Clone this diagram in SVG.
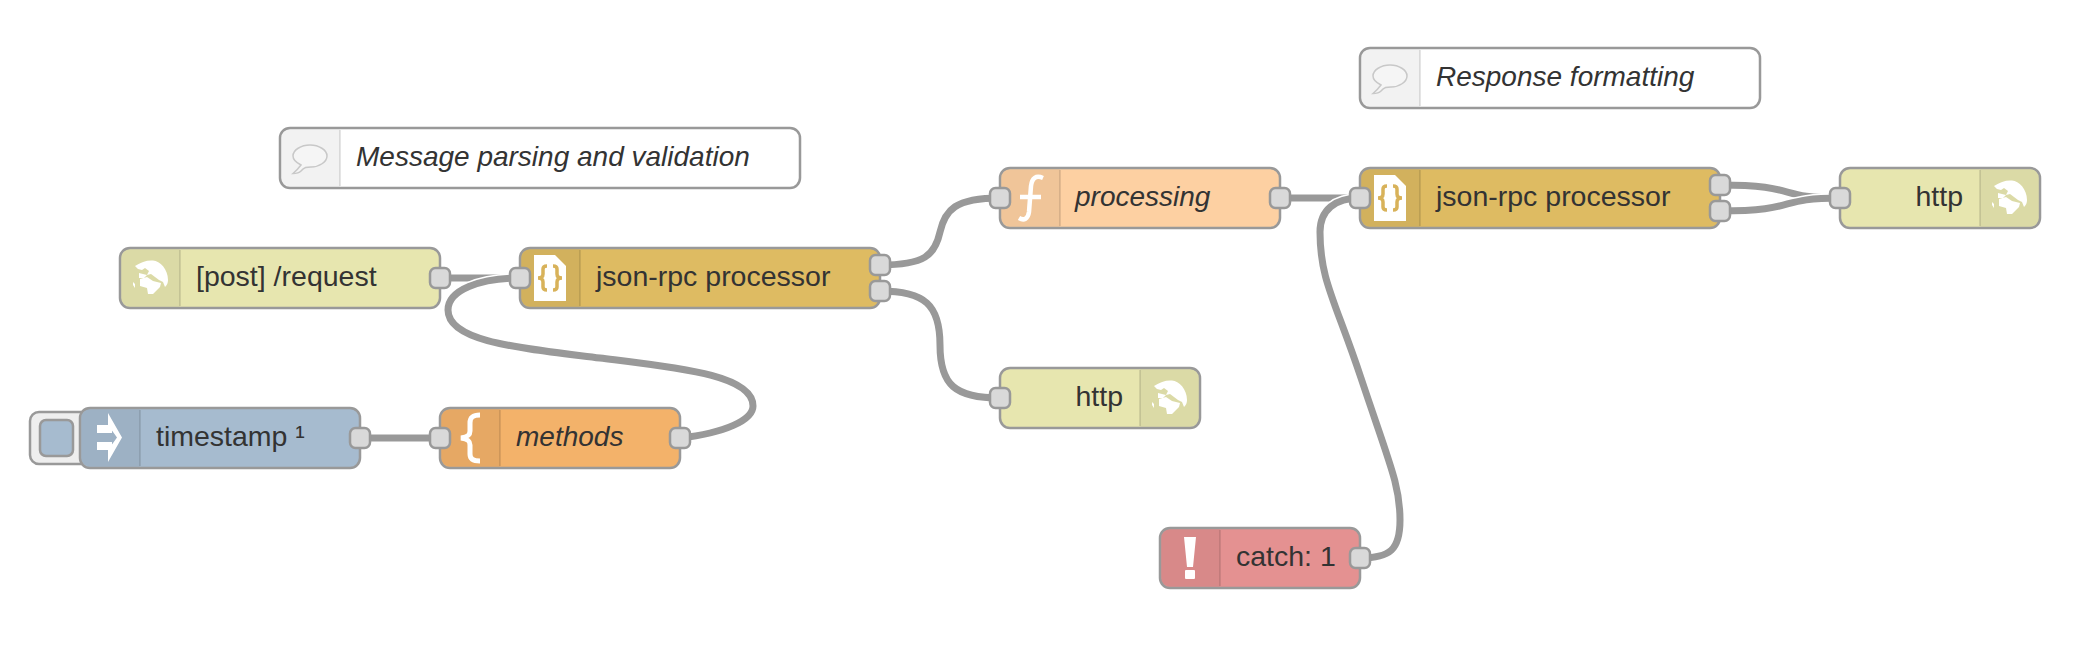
<svg xmlns="http://www.w3.org/2000/svg" xmlns:xlink="http://www.w3.org/1999/xlink" width="2094" height="652" viewBox="0 0 2094 652">
<style>
text{font-family:"Liberation Sans",Arial,sans-serif;font-size:28.5px;fill:#333}
.i{font-style:italic;font-size:28px}
.b{stroke:#999;stroke-width:2.500}
.s{fill:#000;fill-opacity:.05}
.d{stroke:#000;stroke-opacity:.1;stroke-width:2}
.p{fill:#d9d9d9;stroke:#999;stroke-width:2.500}
.h{fill:none;stroke:#fff;stroke-width:10}
.w{fill:none;stroke:#999;stroke-width:7}
.c{fill:none;stroke:#d8b25a;stroke-width:3.500}
</style>
<defs>
<rect id="port" x="-10" y="-10" width="20" height="20" rx="5.500" class="p"/>
<g id="globe" fill="#fff">
<path d="M-15-12C-9-16-3-18 3-17.500C10-17 18-9 18 2C18 5 17 7 15 9L13 4 9 2 5-1 1-4-3-3-1-7-5-10-8-8-12-9Z"/>
<path d="M-11-5-3-3-6 0-11 0Z"/>
<path d="M-10 1-3-1 3 3 11 5 10 9 3 16-2 16-3 10-10 8Z"/>
<path d="M-17 4-15 6-15 10-17 7Z"/>
</g>
<path id="doc" d="M0 0H21L32 11V46H0Z"/>
<g id="bubble"><path d="M-9 7C-15 4-17 1-17-2C-17-8-9-13 0-13C9-13 17-8 17-2C17 4 9 9 1 9C-3 9-6 9-9 13C-11 15-15 15.500-17 15.500C-14 13-12 11-9 7Z" fill="#fff" fill-opacity=".25" stroke="#c8c8c8" stroke-width="1.500"/></g>
</defs>

<g id="connectors">
<path class="w" d="M440 278H520"/>
<path class="h" d="M680 438C725 433 753 420 753 406C753 375 680 368 600 358C520 348 448 342 448 310C448 290 480 278 520 278"/>
<path class="w" d="M680 438C725 433 753 420 753 406C753 375 680 368 600 358C520 348 448 342 448 310C448 290 480 278 520 278"/>
<path class="w" d="M360 438H440"/>
<path class="w" d="M880 265C925 265 935 255 940 232C945 210 955 198 1000 198"/>
<path class="w" d="M880 291C925 291 940 305 940 345C940 385 955 398 1000 398"/>
<path class="w" d="M1280 198H1360"/>
<path class="h" d="M1360 558C1390 558 1400 550 1400 520C1400 485 1390 465 1361 378C1335 300 1320 280 1320 232C1320 210 1335 198 1360 198"/>
<path class="w" d="M1360 558C1390 558 1400 550 1400 520C1400 485 1390 465 1361 378C1335 300 1320 280 1320 232C1320 210 1335 198 1360 198"/>
<path class="w" d="M1720 185C1800 185 1775 198 1840 198"/>
<path class="h" d="M1720 211C1800 211 1775 198 1840 198"/>
<path class="w" d="M1720 211C1800 211 1775 198 1840 198"/>
</g>

<g id="comment-parsing">
<rect class="b" x="280" y="128" width="520" height="60" rx="10" fill="#fff"/>
<path class="s" d="M290 129.500H340V186.500H290A8.500 8.500 0 0 1 281.500 178V138A8.500 8.500 0 0 1 290 129.500Z"/>
<path class="d" d="M340 130V186"/>
<use xlink:href="#bubble" href="#bubble" x="310" y="158"/>
<text class="i" x="356" y="166">Message parsing and validation</text>
</g>

<g id="comment-response">
<rect class="b" x="1360" y="48" width="400" height="60" rx="10" fill="#fff"/>
<path class="s" d="M1370 49.500H1420V106.500H1370A8.500 8.500 0 0 1 1361.500 98V58A8.500 8.500 0 0 1 1370 49.500Z"/>
<path class="d" d="M1420 50V106"/>
<use xlink:href="#bubble" href="#bubble" x="1390" y="78"/>
<text class="i" x="1436" y="86">Response formatting</text>
</g>

<g id="node-post">
<rect class="b" x="120" y="248" width="320" height="60" rx="10" fill="#e7e6af"/>
<path class="s" d="M130 249.500H180V306.500H130A8.500 8.500 0 0 1 121.500 298V258A8.500 8.500 0 0 1 130 249.500Z"/>
<path class="d" d="M180 250V306"/>
<use xlink:href="#globe" href="#globe" x="150" y="278"/>
<text x="196" y="286">[post] /request</text>
<use xlink:href="#port" href="#port" x="440" y="278"/>
</g>

<g id="node-json1">
<rect class="b" x="520" y="248" width="360" height="60" rx="10" fill="#debb62"/>
<path class="s" d="M530 249.500H580V306.500H530A8.500 8.500 0 0 1 521.500 298V258A8.500 8.500 0 0 1 530 249.500Z"/>
<path class="d" d="M580 250V306"/>
<use xlink:href="#doc" href="#doc" x="534" y="255" fill="#fff"/>
<path class="c" d="M547 266C544 266 543 267 543 269V274C543 276 542 278 538 278 542 278 543 280 543 282V287C543 289 544 290 547 290M553 266C556 266 557 267 557 269V274C557 276 558 278 562 278 558 278 557 280 557 282V287C557 289 556 290 553 290"/>
<text x="596" y="286">json-rpc processor</text>
<use xlink:href="#port" href="#port" x="520" y="278"/>
<use xlink:href="#port" href="#port" x="880" y="265"/>
<use xlink:href="#port" href="#port" x="880" y="291"/>
</g>

<g id="node-timestamp">
<rect class="b" x="30" y="412" width="60" height="52" rx="9" fill="#eee"/>
<rect class="b" x="40" y="420" width="33" height="36" rx="6" fill="#a6bbcf"/>
<rect class="b" x="80" y="408" width="280" height="60" rx="10" fill="#a6bbcf"/>
<path class="s" d="M90 409.500H140V466.500H90A8.500 8.500 0 0 1 81.500 458V418A8.500 8.500 0 0 1 90 409.500Z"/>
<path class="d" d="M140 410V466"/>
<path d="M108 413 122 437.500 108 462V450L117 437.500 108 425ZM97 425H112V433H97ZM97 442H112V450H97Z" fill="#fff"/>
<text x="156" y="446">timestamp ¹</text>
<use xlink:href="#port" href="#port" x="360" y="438"/>
</g>

<g id="node-methods">
<rect class="b" x="440" y="408" width="240" height="60" rx="10" fill="#f3b26a"/>
<path class="s" d="M450 409.500H500V466.500H450A8.500 8.500 0 0 1 441.500 458V418A8.500 8.500 0 0 1 450 409.500Z"/>
<path class="d" d="M500 410V466"/>
<path d="M480 415C473 415 470 417 470 423V431C470 435 468 437 461 438 468 439 470 441 470 445V454C470 459 473 461 480 461" fill="none" stroke="#fff" stroke-width="5"/>
<text class="i" x="516" y="446">methods</text>
<use xlink:href="#port" href="#port" x="440" y="438"/>
<use xlink:href="#port" href="#port" x="680" y="438"/>
</g>

<g id="node-processing">
<rect class="b" x="1000" y="168" width="280" height="60" rx="10" fill="#fdd0a2"/>
<path class="s" d="M1010 169.500H1060V226.500H1010A8.500 8.500 0 0 1 1001.500 218V178A8.500 8.500 0 0 1 1010 169.500Z"/>
<path class="d" d="M1060 170V226"/>
<path d="M1043 178C1036 175 1032 178 1031 186L1029 212C1028 219 1024 221 1019 218M1020 197H1041" fill="none" stroke="#fff" stroke-width="4.500"/>
<text class="i" x="1075" y="206">processing</text>
<use xlink:href="#port" href="#port" x="1000" y="198"/>
<use xlink:href="#port" href="#port" x="1280" y="198"/>
</g>

<g id="node-json2">
<rect class="b" x="1360" y="168" width="360" height="60" rx="10" fill="#debb62"/>
<path class="s" d="M1370 169.500H1420V226.500H1370A8.500 8.500 0 0 1 1361.500 218V178A8.500 8.500 0 0 1 1370 169.500Z"/>
<path class="d" d="M1420 170V226"/>
<use xlink:href="#doc" href="#doc" x="1374" y="175" fill="#fff"/>
<path class="c" d="M1387 186C1384 186 1383 187 1383 189V194C1383 196 1382 198 1378 198 1382 198 1383 200 1383 202V207C1383 209 1384 210 1387 210M1393 186C1396 186 1397 187 1397 189V194C1397 196 1398 198 1402 198 1398 198 1397 200 1397 202V207C1397 209 1396 210 1393 210"/>
<text x="1436" y="206">json-rpc processor</text>
<use xlink:href="#port" href="#port" x="1360" y="198"/>
<use xlink:href="#port" href="#port" x="1720" y="185"/>
<use xlink:href="#port" href="#port" x="1720" y="211"/>
</g>

<g id="node-http1">
<rect class="b" x="1840" y="168" width="200" height="60" rx="10" fill="#e7e6af"/>
<path class="s" d="M1980 169.500H2030A8.500 8.500 0 0 1 2038.500 178V218A8.500 8.500 0 0 1 2030 226.500H1980Z"/>
<path class="d" d="M1980 170V226"/>
<use xlink:href="#globe" href="#globe" x="2009" y="198"/>
<text x="1963" y="206" text-anchor="end">http</text>
<use xlink:href="#port" href="#port" x="1840" y="198"/>
</g>

<g id="node-http2">
<rect class="b" x="1000" y="368" width="200" height="60" rx="10" fill="#e7e6af"/>
<path class="s" d="M1140 369.500H1190A8.500 8.500 0 0 1 1198.500 378V418A8.500 8.500 0 0 1 1190 426.500H1140Z"/>
<path class="d" d="M1140 370V426"/>
<use xlink:href="#globe" href="#globe" x="1169" y="398"/>
<text x="1123" y="406" text-anchor="end">http</text>
<use xlink:href="#port" href="#port" x="1000" y="398"/>
</g>

<g id="node-catch">
<rect class="b" x="1160" y="528" width="200" height="60" rx="10" fill="#e49191"/>
<path class="s" d="M1170 529.500H1220V586.500H1170A8.500 8.500 0 0 1 1161.500 578V538A8.500 8.500 0 0 1 1170 529.500Z"/>
<path class="d" d="M1220 530V586"/>
<path d="M1184 537H1196L1193 567H1187ZM1186 570H1194Q1195 570 1195 571V578Q1195 579 1194 579H1186Q1185 579 1185 578V571Q1185 570 1186 570Z" fill="#fff"/>
<text x="1236" y="566">catch: 1</text>
<use xlink:href="#port" href="#port" x="1360" y="558"/>
</g>
</svg>
